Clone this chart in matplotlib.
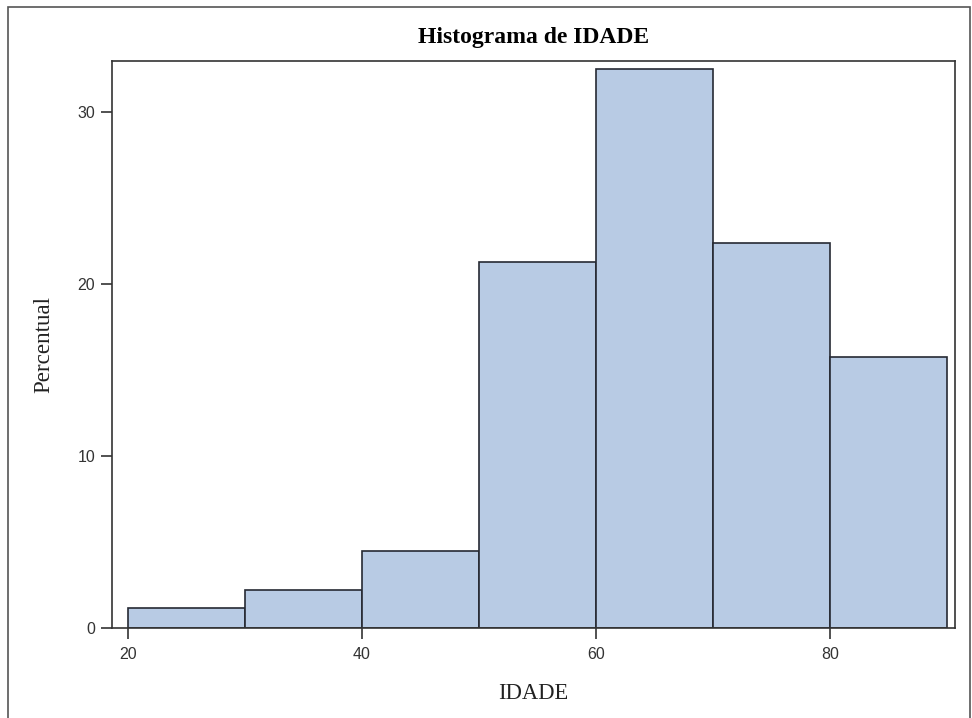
import matplotlib
matplotlib.use('Agg')
import matplotlib.pyplot as plt
from matplotlib.patches import Rectangle

# bins of IDADE (lower edges) and percent per bin
bin_edges = [20, 30, 40, 50, 60, 70, 80, 90]
percentual = [1.14, 2.19, 4.46, 21.26, 32.48, 22.4, 15.72]

x_ticks = [20, 40, 60, 80]
y_ticks = [0, 10, 20, 30]

fig = plt.figure(figsize=(9.72, 7.18), dpi=100)
ax = fig.add_axes([112 / 972, 90 / 718, 843 / 972, 567 / 718])

ax.hist(bin_edges[:-1], bins=bin_edges, weights=percentual,
        color='#b8cbe4', edgecolor='#262a33', linewidth=1.2)

ax.set_xlim(18.66, 90.68)
ax.set_ylim(0, 32.95)
ax.set_xticks(x_ticks)
ax.set_yticks(y_ticks)

for s in ax.spines.values():
    s.set_color('#333333')
    s.set_linewidth(1.2)

ax.tick_params(axis='both', direction='out', length=8, width=1.2, color='#333333',
               labelsize=11.5, labelcolor='#333333')
for lab in ax.get_xticklabels() + ax.get_yticklabels():
    lab.set_family('Liberation Sans')
ax.tick_params(axis='x', pad=6)
ax.tick_params(axis='y', pad=4)

ax.set_title('Histograma de IDADE', family='Liberation Serif', fontweight='bold',
             fontsize=17, pad=13)
ax.set_xlabel('IDADE', family='Liberation Serif', fontsize=16.3, color='#222222', labelpad=15)
ax.set_ylabel('Percentual', family='Liberation Serif', fontsize=16.6, color='#222222', labelpad=17)

# outer frame around the graph
fig.patches.append(Rectangle((8 / 972, -0.01), 962 / 972, 1 - 7 / 718 + 0.01,
                             transform=fig.transFigure, fill=False,
                             edgecolor='#555555', linewidth=1.2))

fig.savefig('out.png', dpi=100)
